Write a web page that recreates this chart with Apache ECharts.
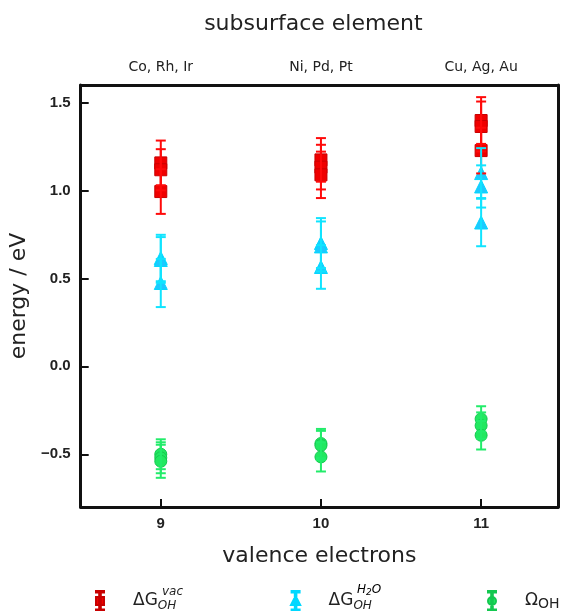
<!DOCTYPE html>
<html>
<head>
<meta charset="utf-8">
<script src="https://cdn.jsdelivr.net/npm/echarts@6/dist/echarts.min.js"></script>
<style>
html,body{margin:0;padding:0;background:#fff;}
#chart{width:561px;height:611px;}
</style>
</head>
<body>
<div id="chart"></div>
<script>
// ---- data ----
const valenceX = [9, 9, 9, 10, 10, 10, 11, 11, 11];
const elementTicks = [9, 10, 11];
const elementLabels = ['Co, Rh, Ir', 'Ni, Pd, Pt', 'Cu, Ag, Au'];
const energyTicks = [-0.5, 0, 0.5, 1, 1.5];

const dGvac    = [1.157, 1.118, 0.994, 1.174, 1.133, 1.089, 1.398, 1.364, 1.227];
const dGvacErr = [0.127, 0.117, 0.127, 0.124, 0.127, 0.132, 0.133, 0.142, 0.130];

const dGh2o    = [0.616, 0.605, 0.474, 0.701, 0.682, 0.565, 1.099, 1.023, 0.818];
const dGh2oErr = [0.132, 0.130, 0.137, 0.142, 0.142, 0.124, 0.142, 0.120, 0.135];

const omegaOH    = [-0.500, -0.520, -0.540, -0.439, -0.450, -0.515, -0.299, -0.337, -0.392];
const omegaOHErr = [0.085, 0.088, 0.094, 0.083, 0.083, 0.083, 0.072, 0.075, 0.081];

// ---- helpers ----
function pts(vals) { return vals.map((v, i) => [valenceX[i], v]); }
function bars(vals, errs) { return vals.map((v, i) => [valenceX[i], v - errs[i], v + errs[i]]); }
function errorSeries(name, vals, errs, color) {
  return {
    name: name, type: 'custom', xAxisIndex: 0, yAxisIndex: 0, z: 3,
    data: bars(vals, errs),
    renderItem: function (params, api) {
      const x = api.value(0);
      const lo = api.coord([x, api.value(1)]);
      const hi = api.coord([x, api.value(2)]);
      const w = 5;
      const st = { stroke: color, lineWidth: 2 };
      return {
        type: 'group', children: [
          { type: 'line', shape: { x1: hi[0], y1: hi[1], x2: lo[0], y2: lo[1] }, style: st },
          { type: 'line', shape: { x1: hi[0] - w, y1: hi[1], x2: hi[0] + w, y2: hi[1] }, style: st },
          { type: 'line', shape: { x1: lo[0] - w, y1: lo[1], x2: lo[0] + w, y2: lo[1] }, style: st }
        ]
      };
    }
  };
}

const iconBar = 'M1,0H9V1.6H1Z M4.2,0H5.8V20H4.2Z M1,18.4H9V20H1Z ';
const iconSq = iconBar + 'M1,6H9V14H1Z';
const iconTri = iconBar + 'M5,5L9.6,14H0.4Z';
const iconCirc = iconBar + 'M5,6A4,4,0,1,1,5,14A4,4,0,1,1,5,6Z';

const RED = '#ff0a0a', CYAN = '#10e4ff', GREEN = '#22ec6a';
const FONT = 'DejaVu Sans';

const richLeg = {
  d: { fontSize: 17, fontFamily: FONT, color: '#222', padding: [0, 0, 0, 23] },
  o: { fontSize: 17, fontFamily: FONT, color: '#222', padding: [0, 0, 0, 23] },
  s: { fontSize: 12, fontFamily: FONT, fontStyle: 'italic', color: '#222', verticalAlign: 'bottom', padding: [9, 0, 0, 0] },
  s2: { fontSize: 14, fontFamily: FONT, color: '#222', verticalAlign: 'bottom', padding: [6, 0, 0, 0] }
};
function leg(name, icon, left, fmt) {
  return {
    data: [{ name: name, icon: 'path://' + icon }],
    left: left, top: 590, padding: 0, itemWidth: 10, itemHeight: 20,
    selectedMode: false,
    formatter: () => fmt,
    textStyle: { rich: richLeg }
  };
}

const chart = echarts.init(document.getElementById('chart'));
chart.setOption({
  animation: false,
  backgroundColor: '#fff',
  grid: { left: 80.7, right: 3, top: 85, bottom: 104, containLabel: false },
  xAxis: [
    {
      type: 'value', position: 'bottom', min: 8.5, max: 11.48,
      name: 'valence electrons', nameLocation: 'middle', nameGap: 38,
      nameTextStyle: { fontSize: 22, fontFamily: FONT, color: '#222' },
      axisLine: { show: true, onZero: false, lineStyle: { color: '#111', width: 3 } },
      axisTick: { show: true, inside: true, length: 8, customValues: elementTicks, lineStyle: { color: '#111', width: 2 } },
      axisLabel: { customValues: elementTicks, margin: 9, fontSize: 15, fontWeight: 'bold', fontFamily: 'Liberation Sans', color: '#222' },
      splitLine: { show: false }
    },
    {
      type: 'value', position: 'top', min: 8.5, max: 11.48,
      name: 'subsurface element', nameLocation: 'middle', nameGap: 50,
      nameTextStyle: { fontSize: 22, fontFamily: FONT, color: '#222', padding: [0, 12, 0, 0] },
      axisLine: { show: true, onZero: false, lineStyle: { color: '#111', width: 3 } },
      axisTick: { show: false },
      axisLabel: {
        customValues: elementTicks, margin: 11, fontSize: 14, fontFamily: FONT, color: '#222',
        formatter: v => elementLabels[elementTicks.indexOf(Math.round(v))] || ''
      },
      splitLine: { show: false }
    }
  ],
  yAxis: [
    {
      type: 'value', position: 'left', min: -0.8, max: 1.6,
      name: 'energy / eV', nameLocation: 'middle', nameGap: 42,
      nameTextStyle: { fontSize: 22, fontFamily: FONT, color: '#222' },
      axisLine: { show: true, onZero: false, lineStyle: { color: '#111', width: 3 } },
      axisTick: { show: true, inside: true, length: 8, customValues: energyTicks, lineStyle: { color: '#111', width: 2 } },
      axisLabel: {
        customValues: energyTicks, margin: 10, fontSize: 15, fontWeight: 'bold', fontFamily: 'Liberation Sans', color: '#222',
        formatter: v => v.toFixed(1).replace('-', '\u2212')
      },
      splitLine: { show: false }
    },
    {
      type: 'value', position: 'right', min: -0.8, max: 1.6,
      axisLine: { show: true, onZero: false, lineStyle: { color: '#111', width: 3 } },
      axisTick: { show: false }, axisLabel: { show: false }, splitLine: { show: false }
    }
  ],
  legend: [
    leg('dGvac', iconSq, 95, '{d|ΔG}{s|OH}'),
    leg('dGh2o', iconTri, 290, '{d|ΔG}{s|OH}'),
    leg('omega', iconCirc, 487, '{o|Ω}{s2|OH}')
  ],
  graphic: [
    { type: 'text', left: 162, top: 586, style: { text: 'vac', fontSize: 12, fontStyle: 'italic', fontFamily: FONT, fill: '#222' } },
    { type: 'text', left: 357, top: 584, style: { text: '{a|H}{b|2}{a|O}', fontFamily: FONT, rich: {
      a: { fontSize: 12, fontStyle: 'italic', fontFamily: FONT, color: '#222' },
      b: { fontSize: 9, fontStyle: 'italic', fontFamily: FONT, color: '#222', verticalAlign: 'bottom', padding: [5, 0, 0, 0] } } } }
  ],
  series: [
    { name: 'dGvac', type: 'scatter', symbol: 'rect', symbolSize: 12, z: 2, data: pts(dGvac),
      itemStyle: { color: '#f00000', borderColor: '#c80000', borderWidth: 1, opacity: 1 } },
    errorSeries('dGvac', dGvac, dGvacErr, RED),
    { name: 'dGh2o', type: 'scatter', symbol: 'triangle', symbolSize: 13, z: 2, data: pts(dGh2o),
      itemStyle: { color: '#1ec8ff', borderColor: '#00d8ff', borderWidth: 1, opacity: 1 } },
    errorSeries('dGh2o', dGh2o, dGh2oErr, CYAN),
    { name: 'omega', type: 'scatter', symbol: 'circle', symbolSize: 12, z: 2, data: pts(omegaOH),
      itemStyle: { color: '#22e860', borderColor: '#14c850', borderWidth: 1, opacity: 1 } },
    errorSeries('omega', omegaOH, omegaOHErr, GREEN)
  ]
});
</script>
</body>
</html>
